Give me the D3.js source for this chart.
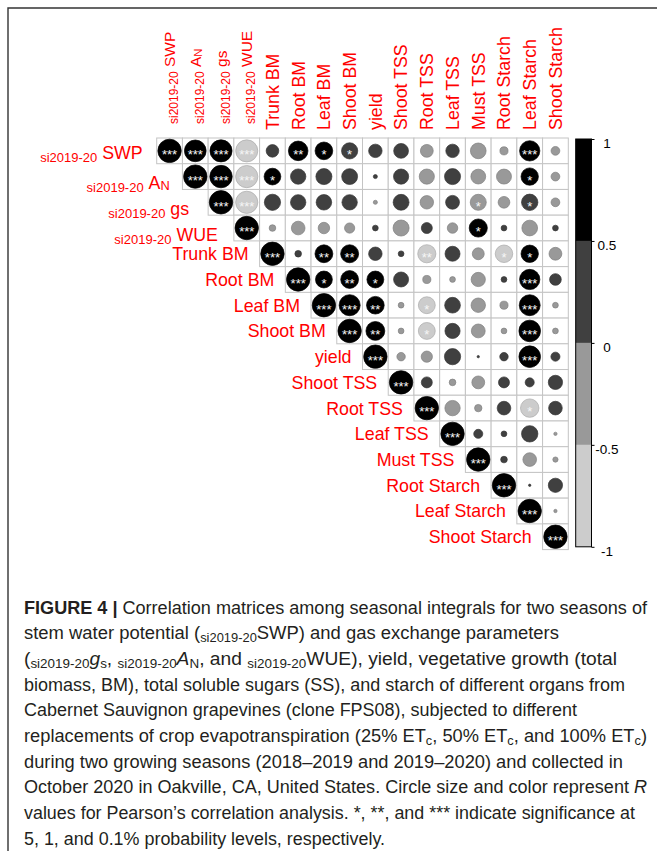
<!DOCTYPE html>
<html>
<head>
<meta charset="utf-8">
<script src="https://cdn.jsdelivr.net/npm/d3@7"></script>
<style>
  html, body { margin: 0; padding: 0; background: #fff; }
  svg { display: block; }
</style>
</head>
<body>
<svg id="chart" width="657" height="851"></svg>
<script>
// ---------------- DATA ----------------
const categories = ["si2019-20 SWP", "si2019-20 AN", "si2019-20 gs", "si2019-20 WUE",
  "Trunk BM", "Root BM", "Leaf BM", "Shoot BM", "yield", "Shoot TSS", "Root TSS",
  "Leaf TSS", "Must TSS", "Root Starch", "Leaf Starch", "Shoot Starch"];

// upper triangle, row i holds columns i..15
const corrRows = [
  [1, 0.86, 0.89, -0.89, 0.29, 0.70, 0.57, 0.48, 0.33, 0.40, -0.30, 0.33, -0.45, -0.12, 0.75, -0.14],
  [1, 0.92, -0.90, 0.51, 0.43, 0.47, 0.46, 0.03, 0.42, -0.42, 0.47, -0.40, -0.41, 0.55, -0.14],
  [1, -0.90, 0.48, 0.43, 0.44, 0.43, -0.03, 0.46, -0.33, 0.35, -0.47, -0.25, 0.49, -0.14],
  [1, -0.08, -0.34, -0.24, -0.19, 0.06, -0.47, 0.22, -0.20, 0.60, 0.06, -0.45, 0.06],
  [1, 0.08, 0.58, 0.59, 0.33, 0.06, -0.60, 0.41, -0.26, -0.56, 0.55, -0.30],
  [1, 0.52, 0.58, 0.52, 0.41, -0.12, -0.06, -0.37, 0.06, 0.75, 0.25],
  [1, 0.81, 0.57, -0.06, -0.52, 0.45, -0.38, -0.12, 0.80, -0.06],
  [1, 0.65, -0.06, -0.52, 0.42, -0.35, -0.06, 0.85, -0.06],
  [1, -0.13, -0.23, 0.48, 0.01, 0.13, 0.85, 0.15],
  [1, 0.22, -0.08, -0.30, 0.22, 0.15, 0.37],
  [1, -0.43, -0.10, 0.34, -0.62, 0.34],
  [1, 0.15, 0.06, 0.49, -0.02],
  [1, 0.08, -0.34, -0.05],
  [1, 0.01, 0.37],
  [1, -0.02],
  [1]
];

const sigRows = [
  ["***","***","***","***","","**","*","*","","","","","","","***",""],
  ["***","***","***","*","","","","","","","","","","*",""],
  ["***","***","","","","","","","","","*","","*",""],
  ["***","","","","","","","","","*","","",""],
  ["***","","**","**","","","**","","","*","*",""],
  ["***","*","**","*","","","","","","***",""],
  ["***","***","**","","*","","","","***",""],
  ["***","**","","*","","","","***",""],
  ["***","","","","","","***",""],
  ["***","","","","","",""],
  ["***","","","","*",""],
  ["***","","","",""],
  ["***","","",""],
  ["***","",""],
  ["***",""],
  ["***"]
];

const legendTicks = [1, 0.5, 0, -0.5, -1];
const legendTickLabels = ["1", "0.5", "0", "-0.5", "-1"];
const colorBreaks = [-0.5, 0, 0.5];
const colorShades = ["#cccccc", "#999999", "#404040", "#000000"];

// ---------------- LAYOUT ----------------
const svg = d3.select("#chart");
const FONT = "'Liberation Sans', Arial, sans-serif";
const gridX0 = 156.7, gridY0 = 138, gridSize = 411.6;

const x = d3.scaleBand().domain(categories).range([gridX0, gridX0 + gridSize]).padding(0);
const y = d3.scaleBand().domain(categories).range([gridY0, gridY0 + gridSize]).padding(0);
const bw = x.bandwidth();
const color = d3.scaleThreshold().domain(colorBreaks).range(colorShades);
const rScale = d3.scaleSqrt().domain([0, 1]).range([0, bw * 0.455]);

// frame
svg.append("path").attr("d", "M8,851 V8 H657").attr("fill", "none")
  .attr("stroke", "#333").attr("stroke-width", 1.4);

// cells
const cells = [];
corrRows.forEach((row, i) => {
  row.forEach((v, k) => {
    const j = i + k;
    cells.push({ i, j, v, sig: sigRows[i][k] });
  });
});

const gCells = svg.append("g");
gCells.selectAll("rect").data(cells).join("rect")
  .attr("x", d => x(categories[d.j]))
  .attr("y", d => y(categories[d.i]))
  .attr("width", bw).attr("height", bw)
  .attr("fill", "#fff").attr("stroke", "#c4c4c4").attr("stroke-width", 1);

gCells.selectAll("circle").data(cells).join("circle")
  .attr("cx", d => x(categories[d.j]) + bw / 2)
  .attr("cy", d => y(categories[d.i]) + bw / 2)
  .attr("r", d => rScale(Math.abs(d.v)))
  .attr("fill", d => color(d.v))
  .attr("stroke", d => d3.color(color(d.v)).darker(0.5))
  .attr("stroke-width", 0.7);

gCells.selectAll("text").data(cells.filter(d => d.sig)).join("text")
  .attr("x", d => x(categories[d.j]) + bw / 2)
  .attr("y", d => y(categories[d.i]) + bw / 2 + 8.3)
  .attr("text-anchor", "middle")
  .attr("font-family", FONT).attr("font-size", 13)
  .attr("fill", "#f6f6f6")
  .text(d => d.sig);

// ---------------- LABELS ----------------
function fillLabel(t, name, fsMain, fsPre) {
  if (name.startsWith("si2019-20 ")) {
    const main = name.slice(10);
    t.append("tspan").attr("font-size", fsPre).attr("dy", 3).text("si2019-20");
    if (main === "AN") {
      t.append("tspan").attr("font-size", fsMain).attr("dy", -3).text("\u00a0A");
      t.append("tspan").attr("font-size", fsMain * 0.72).attr("dy", 1.5).text("N");
    } else {
      t.append("tspan").attr("font-size", fsMain).attr("dy", -3).text("\u00a0" + main);
    }
  } else {
    t.text(name);
  }
}

const rowFs = 17.8;
const siRowGap = [14, 12.7, 19, 16];
const siRowShift = [2, 6, 6, 7];
const gRow = svg.append("g");
categories.forEach((c, i) => {
  const isSi = c.startsWith("si2019-20 ");
  const gap = isSi ? siRowGap[i] : 11;
  const shift = isSi ? siRowShift[i] : 0;
  const t = gRow.append("text")
    .attr("x", x(c) - gap)
    .attr("y", y(c) + bw / 2 + rowFs * 0.36 + shift)
    .attr("text-anchor", "end")
    .attr("font-family", FONT).attr("font-size", rowFs)
    .attr("fill", "#ff0000");
  fillLabel(t, c, rowFs, 13);
});

const gCol = svg.append("g");
categories.forEach((c) => {
  const isSi = c.startsWith("si2019-20 ");
  const fs = isSi ? 15.5 : rowFs;
  const bottom = isSi ? 124 : 130;
  const t = gCol.append("text")
    .attr("transform", `translate(${x(c) + bw / 2 + fs * 0.36},${bottom}) rotate(-90)`)
    .attr("text-anchor", "start")
    .attr("font-family", FONT).attr("font-size", fs)
    .attr("fill", "#ff0000");
  fillLabel(t, c, fs, 12);
});

// ---------------- LEGEND ----------------
const legX = 575.7, legW = 15.8;
const ly = d3.scaleLinear().domain([-1, 1]).range([546.8, 139]);
const bins = [[-1, -0.5], [-0.5, 0], [0, 0.5], [0.5, 1]];
const gLeg = svg.append("g");
gLeg.selectAll("rect.bin").data(bins).join("rect").attr("class", "bin")
  .attr("x", legX).attr("width", legW)
  .attr("y", d => ly(d[1])).attr("height", d => ly(d[0]) - ly(d[1]))
  .attr("fill", d => color((d[0] + d[1]) / 2));
gLeg.append("rect").attr("x", legX).attr("y", ly(1)).attr("width", legW)
  .attr("height", ly(-1) - ly(1)).attr("fill", "none").attr("stroke", "#000").attr("stroke-width", 1);

const axis = d3.axisRight(ly).tickValues(legendTicks)
  .tickFormat((d, i) => legendTickLabels[i]).tickSize(3);
const gAx = gLeg.append("g").attr("transform", `translate(${legX + legW},0)`).call(axis);
gAx.select(".domain").remove();
gAx.selectAll("line").attr("stroke", "#000");
gAx.selectAll("text")
  .attr("x", 15.5).attr("dy", "0.62em")
  .attr("text-anchor", "middle")
  .attr("font-family", FONT).attr("font-size", 13.5).attr("fill", "#000");

// ---------------- CAPTION ----------------
const captionLines = [
  { w: 623, segs: [["FIGURE 4 |", "b"], [" Correlation matrices among seasonal integrals for two seasons of"]] },
  { w: 535, segs: [["stem water potential ("], ["si2019-20", "sub"], ["SWP) and gas exchange parameters"]] },
  { w: 593, segs: [["("], ["si2019-20", "sub"], ["g", "i"], ["s", "sub"], [", "], ["si2019-20", "sub"], ["A", "i"], ["N", "sub"], [", and "], ["si2019-20", "sub"], ["WUE), yield, vegetative growth (total"]] },
  { w: 601, segs: [["biomass, BM), total soluble sugars (SS), and starch of different organs from"]] },
  { w: 553, segs: [["Cabernet Sauvignon grapevines (clone FPS08), subjected to different"]] },
  { w: 623, segs: [["replacements of crop evapotranspiration (25% ET"], ["c", "sub"], [", 50% ET"], ["c", "sub"], [", and 100% ET"], ["c", "sub"], [")"]] },
  { w: 599, segs: [["during two growing seasons (2018\u20132019 and 2019\u20132020) and collected in"]] },
  { w: 623, segs: [["October 2020 in Oakville, CA, United States. Circle size and color represent "], ["R", "i"]] },
  { w: 611, segs: [["values for Pearson\u2019s correlation analysis. *, **, and *** indicate significance at"]] },
  { w: 361, segs: [["5, 1, and 0.1% probability levels, respectively."]] }
];
const capX = 24, capY0 = 613.5, capStep = 25.7, capFs = 17.5;
const gCap = svg.append("g");
captionLines.forEach((line, li) => {
  const t = gCap.append("text")
    .attr("x", capX).attr("y", capY0 + li * capStep)
    .attr("font-family", FONT).attr("font-size", capFs)
    .attr("fill", "#231f20")
    .attr("textLength", line.w).attr("lengthAdjust", "spacingAndGlyphs");
  let inSub = false;
  line.segs.forEach(([txt, st]) => {
    const ts = t.append("tspan").text(txt);
    if (st === "sub") {
      ts.attr("font-size", capFs * 0.7);
      if (!inSub) ts.attr("dy", 3);
      inSub = true;
    } else {
      if (inSub) ts.attr("dy", -3);
      inSub = false;
      if (st === "b") ts.attr("font-weight", "bold");
      if (st === "i") ts.attr("font-style", "italic");
    }
  });
});
</script>
</body>
</html>
